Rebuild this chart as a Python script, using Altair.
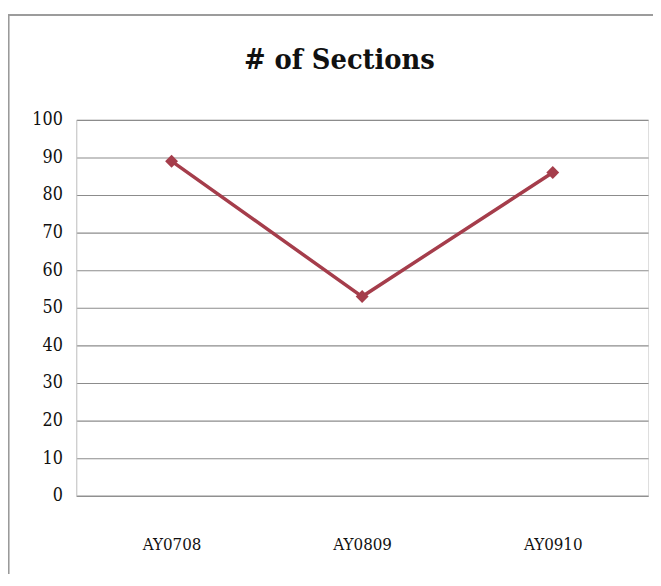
import altair as alt
import pandas as pd

years = ["AY0708", "AY0809", "AY0910"]
sections = [89, 53, 86]
title_text = "# of Sections"

df = pd.DataFrame({"year": years, "sections": sections})

LINE_COLOR = "#a53d4b"
FONT = "DejaVu Serif Condensed"

x_enc = alt.X("year:N", sort=years, title=None,
              axis=alt.Axis(labelAngle=0, labelFont=FONT, labelFontSize=17,
                            labelColor="#111111", labelPadding=41, ticks=False,
                            domainColor="#8a8a8a", domainWidth=1.2))
y_enc = alt.Y("sections:Q", title=None,
              scale=alt.Scale(domain=[0, 100], nice=False),
              axis=alt.Axis(values=list(range(0, 101, 10)), labelFont=FONT,
                            labelFontSize=18, labelColor="#111111", labelPadding=14,
                            ticks=False, domainColor="#c8c8c8", gridColor="#8c8c8c",
                            gridWidth=1.1))

line = alt.Chart(df).mark_line(color=LINE_COLOR, strokeWidth=3.5).encode(x=x_enc, y=y_enc)
pts = alt.Chart(df).mark_point(shape="diamond", filled=True, color=LINE_COLOR,
                               size=170, opacity=1).encode(x=x_enc, y=y_enc)

border = alt.Chart(df).mark_rect(fill=None, stroke="#9a9a9a", strokeWidth=1.5).encode(
    x=alt.value(-68.5), x2=alt.value(620), y=alt.value(-106), y2=alt.value(500)
)

title = alt.Chart(pd.DataFrame({"t": [title_text]})).mark_text(
    font="DejaVu Serif Condensed", fontSize=29, fontWeight="bold", color="#111111",
    align="center", baseline="alphabetic"
).encode(text="t:N", x=alt.value(266), y=alt.value(-51))

chart = alt.layer(border, line, pts, title).properties(
    width=578, height=380,
    padding={"left": 69, "top": 110, "right": 5, "bottom": 76},
    autosize=alt.AutoSizeParams(type="none"),
).configure_view(stroke=None).configure(background="white")

chart.save("out.html", embed_options={"renderer": "svg", "actions": False})
